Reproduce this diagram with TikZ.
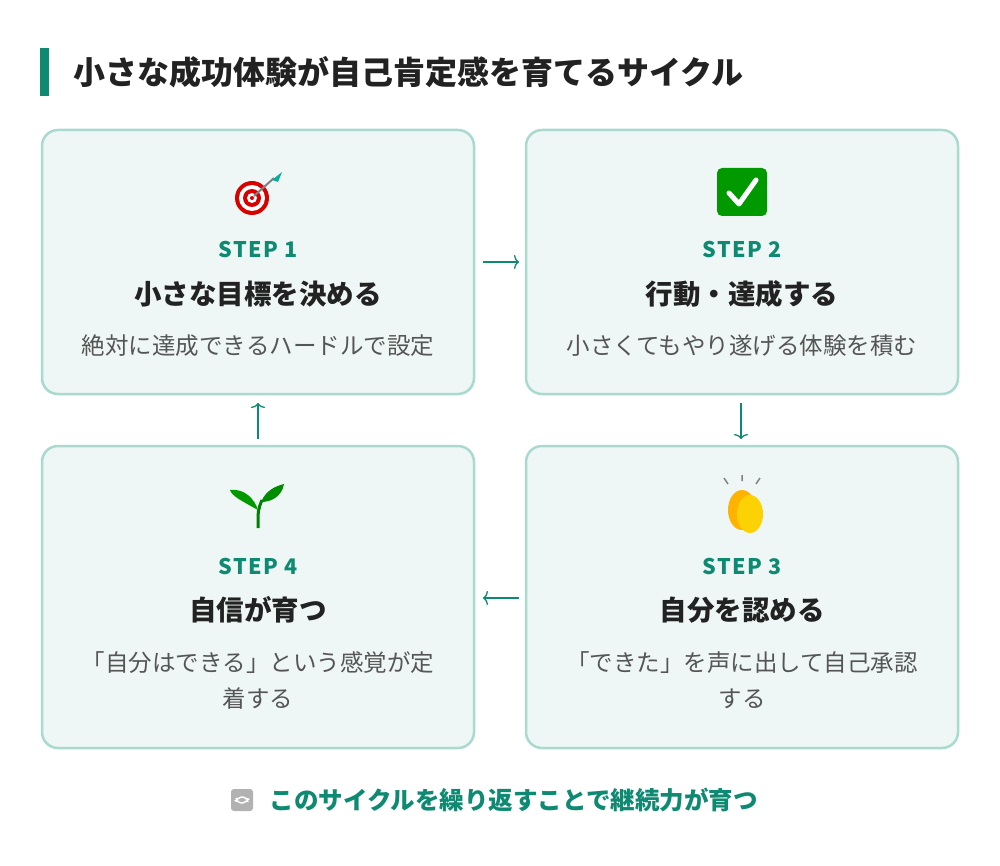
\documentclass[tikz,border=0pt]{standalone}
\usepackage{fontspec}
\setmainfont{Noto Sans CJK JP}
\usetikzlibrary{arrows.meta}
\definecolor{teal}{HTML}{0E8A72}
\definecolor{bord}{HTML}{A9D9CF}
\definecolor{boxf}{HTML}{EEF7F5}
\definecolor{txt}{HTML}{222222}
\definecolor{gr}{HTML}{555555}
\begin{document}
\begin{tikzpicture}[x=1pt,y=-1pt,
 box/.style={draw=bord,line width=2.5pt,fill=boxf,rounded corners=16pt},
 stp/.style={font=\fontsize{21.5}{22}\bfseries\addfontfeature{LetterSpace=6}\selectfont,text=teal},
 ttl/.style={font=\fontsize{27.5}{32}\bfseries\selectfont,text=txt},
 desc/.style={font=\fontsize{23.5}{36}\selectfont,text=gr,align=center},
 arr/.style={draw=teal,line width=1.3pt,-{To[length=5pt,width=14pt]}}]
\useasboundingbox[fill=white](0,0) rectangle (1000,866);
\fill[teal] (40,48) rectangle (49,96);
\node[anchor=west,font=\fontsize{32}{36}\bfseries\selectfont,text=txt] (title) at (70,72) {小さな成功体験が自己肯定感を育てるサイクル};
\draw[box] (42,130) rectangle (474,394);
\draw[box] (526,130) rectangle (958,394);
\draw[box] (526,446) rectangle (958,748);
\draw[box] (42,446) rectangle (474,748);
\coordinate (b1r) at (483,262); \coordinate (b2l) at (519,262);
\coordinate (b2b) at (741,403); \coordinate (b3t) at (741,439);
\coordinate (b3l) at (519,598); \coordinate (b4r) at (483,598);
\coordinate (b4t) at (258,439); \coordinate (b1b) at (258,403);
\draw[arr] (b1r) -- (b2l);
\draw[arr] (b2b) -- (b3t);
\draw[arr] (b3l) -- (b4r);
\draw[arr] (b4t) -- (b1b);
% icon 1 target
\foreach \r/\c in {17/red!85!black,13/white,9/red!85!black,5/white,2/red!85!black}{\fill[\c] (252,198) circle (\r);}
\draw[line width=2pt,gray] (254,196) -- (274,178);
\fill[teal!70!cyan] (272,180) -- (282,172) -- (278,182) -- cycle;
% icon 2 check
\fill[green!60!black,rounded corners=5pt] (717,168) rectangle (767,216);
\draw[white,line width=5pt,line cap=round,line join=round] (729,193) -- (739,204) -- (756,180);
% icon 3 clap
\fill[orange!60!yellow] (742,510) ellipse (14 and 20);
\fill[yellow!70!orange] (750,514) ellipse (13 and 19);
\draw[gray,line width=1.5pt] (728,484)--(724,478) (742,481)--(742,475) (756,484)--(760,478);
% icon 4 sprout
\draw[green!50!black,line width=3pt] (258,528) .. controls (258,510) .. (262,500);
\fill[green!60!black] (258,510) .. controls (240,500) and (232,496) .. (230,490) .. controls (245,488) and (255,500) .. (258,510);
\fill[green!55!black] (261,502) .. controls (266,490) and (276,486) .. (284,484) .. controls (282,496) and (272,502) .. (261,502);
\node[stp] (s1) at (258,250) {STEP 1};
\node[ttl] (t1) at (258,294) {小さな目標を決める};
\node[desc] (d1) at (258,346) {絶対に達成できるハードルで設定};
\node[stp] (s2) at (742,250) {STEP 2};
\node[ttl] (t2) at (742,294) {行動・達成する};
\node[desc] (d2) at (742,346) {小さくてもやり遂げる体験を積む};
\node[stp] (s3) at (742,566) {STEP 3};
\node[ttl] (t3) at (742,610) {自分を認める};
\node[desc] (d3) at (742,680) {「できた」を声に出して自己承認\\する};
\node[stp] (s4) at (258,566) {STEP 4};
\node[ttl] (t4) at (258,610) {自信が育つ};
\node[desc] (d4) at (258,680) {「自分はできる」という感覚が定\\着する};
% bottom
\fill[gray!60,rounded corners=3pt] (231,789) rectangle (253,811);
\draw[white,line width=1.5pt,-{To[length=2pt]}] (236,798) arc (170:10:6);
\draw[white,line width=1.5pt,-{To[length=2pt]}] (248,802) arc (-10:-170:6);
\node[anchor=west,font=\fontsize{24.5}{28}\bfseries\selectfont,text=teal] (foot) at (266,800) {このサイクルを繰り返すことで継続力が育つ};
\end{tikzpicture}
\end{document}
